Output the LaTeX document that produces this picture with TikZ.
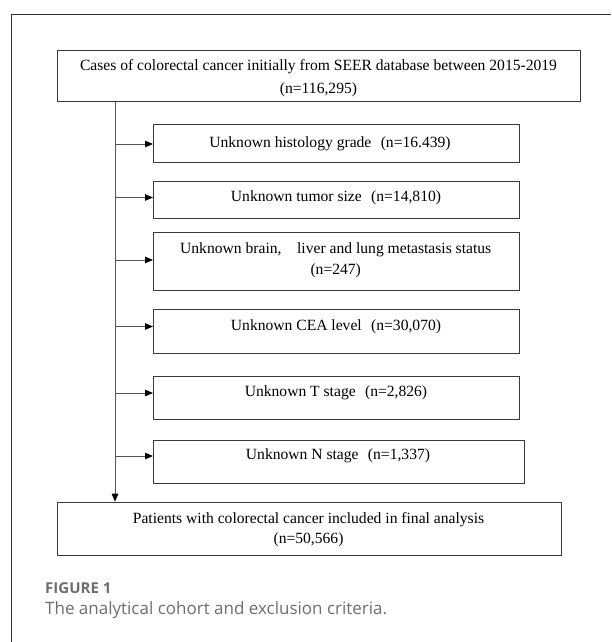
\documentclass[tikz,border=0pt]{standalone}
\usepackage{fontspec}
\setmainfont{Liberation Serif}
\newfontfamily\capfont{Open Sans}
\usetikzlibrary{arrows.meta}
\definecolor{framecol}{HTML}{333333}
\definecolor{boxcol}{HTML}{3A3A3A}
\definecolor{linecol}{HTML}{555555}
\definecolor{capgray}{HTML}{6E6E6E}
\tikzset{
  boxnode/.style={draw=boxcol, line width=0.9pt, inner sep=0pt, anchor=north west},
  txt/.style={inner sep=0pt, align=center, font=\fontsize{15.6}{21.5}\selectfont},
  conn/.style={draw=linecol, line width=0.9pt},
  arr/.style={conn, -{Triangle[length=8pt,width=6.5pt,fill=black,color=black]}, shorten >=0pt},
}
\begin{document}
\begin{tikzpicture}[x=1pt,y=-1pt]
\useasboundingbox (0,0) rectangle (611,642);
% outer frame
\draw[framecol, line width=1pt] (11.7,642) -- (11.7,14.3) -- (611,14.3);
% boxes
\node[boxnode, minimum width=523pt, minimum height=51pt] (top) at (57,50) {};
\node[boxnode, minimum width=366pt, minimum height=38pt] (b1) at (153,124) {};
\node[boxnode, minimum width=366pt, minimum height=37pt] (b2) at (153,181) {};
\node[boxnode, minimum width=366pt, minimum height=58pt] (b3) at (153,232.3) {};
\node[boxnode, minimum width=366pt, minimum height=43.4pt] (b4) at (153,309.3) {};
\node[boxnode, minimum width=366pt, minimum height=43.3pt] (b5) at (153,376) {};
\node[boxnode, minimum width=371pt, minimum height=43.3pt] (b6) at (153,440) {};
\node[boxnode, minimum width=504.5pt, minimum height=53.3pt] (fin) at (56.5,501.7) {};
% texts
\node[txt, font=\fontsize{15.6}{23}\selectfont] (ttop) at (318.5,78.5) {Cases of colorectal cancer initially from SEER database between 2015-2019\\(n=116,295)};
\node[txt] (t1) at (330,144) {Unknown histology grade\hspace{0.6em}(n=16.439)};
\node[txt] (t2) at (336,197.5) {Unknown tumor size\hspace{0.6em}(n=14,810)};
\node[txt] (t3) at (335.7,260) {Unknown brain,\hspace{1em}liver and lung metastasis status\\(n=247)};
\node[txt] (t4) at (336,326.5) {Unknown CEA level\hspace{0.6em}(n=30,070)};
\node[txt] (t5) at (336,393) {Unknown T stage\hspace{0.6em}(n=2,826)};
\node[txt] (t6) at (338,456) {Unknown N stage\hspace{0.6em}(n=1,337)};
\node[txt, font=\fontsize{15.6}{20.7}\selectfont] (tfin) at (308.5,529.7) {Patients with colorectal cancer included in final analysis\\(n=50,566)};
% connectors
\coordinate (trunk) at (115,0);
\draw[arr] (top.south -| trunk) -- (fin.north -| trunk);
\foreach \i in {1,...,6}{
  \draw[arr] (trunk |- t\i.center) -- (t\i.center -| b\i.west);
}
% caption
\node[anchor=west, inner sep=0pt, text=capgray, font=\capfont\bfseries\fontsize{15}{17}\selectfont] (figlab) at (45,588.3) {FIGURE 1};
\node[anchor=west, inner sep=0pt, text=capgray, font=\capfont\fontsize{17}{19}\selectfont] (cap) at (45,610) {The analytical cohort and exclusion criteria.};
\end{tikzpicture}
\end{document}
